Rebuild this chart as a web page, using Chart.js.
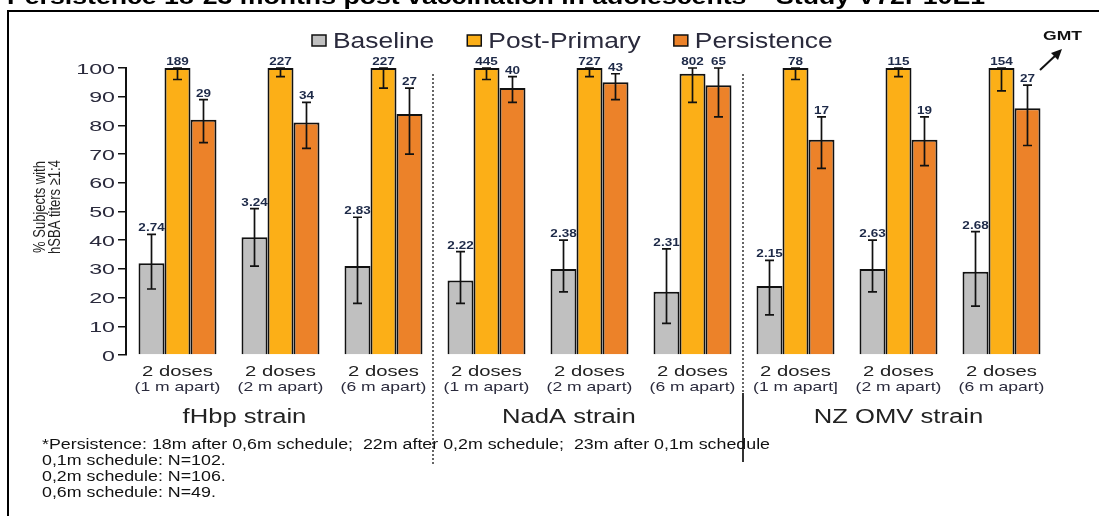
<!DOCTYPE html>
<html>
<head>
<meta charset="utf-8">
<script src="https://cdn.jsdelivr.net/npm/chart.js@4.4.0/dist/chart.umd.min.js"></script>
<style>
  html, body { margin: 0; padding: 0; background: #fff; }
  #wrap { position: relative; width: 1099px; height: 516px; }
</style>
</head>
<body>
<div id="wrap"><canvas id="chart" width="1099" height="516"></canvas></div>
<script>
// categories
const doseLabels = ['2 doses', '2 doses', '2 doses', '2 doses', '2 doses', '2 doses', '2 doses', '2 doses', '2 doses'];
const apartLabels = ['(1 m apart)', '(2 m apart)', '(6 m apart)', '(1 m apart)', '(2 m apart)', '(6 m apart)', '(1 m apart]', '(2 m apart)', '(6 m apart)'];
const strainLabels = ['fHbp strain', 'NadA strain', 'NZ OMV strain'];
const seriesNames = ['Baseline', 'Post-Primary', 'Persistence'];

// % subjects with hSBA titers >= 1:4
const baseline = [32, 41, 31, 26, 30, 22, 24, 30, 29];
const baselineLow = [23, 31, 18, 18, 22, 11, 14, 22, 17];
const baselineHigh = [42, 51, 48, 36, 40, 37, 33, 40, 43];

const postPrimary = [100, 100, 100, 100, 100, 98, 100, 100, 100];
const postLow = [96, 97, 93, 96, 97, 88, 96, 97, 92];
const postHigh = [100, 100, 100, 100, 100, 100, 100, 100, 100];

const persistence = [82, 81, 84, 93, 95, 94, 75, 75, 86];
const persLow = [74, 72, 70, 88, 89, 83, 65, 66, 73];
const persHigh = [89, 88, 93, 97, 98, 100, 83, 83, 94];

// GMT values printed above the bars
const baselineGMT = ['2.74', '3.24', '2.83', '2.22', '2.38', '2.31', '2.15', '2.63', '2.68'];
const postGMT = ['189', '227', '227', '445', '727', '802', '78', '115', '154'];
const persGMT = ['29', '34', '27', '40', '43', '65', '17', '19', '27'];

const yTicks = [0, 10, 20, 30, 40, 50, 60, 70, 80, 90, 100];

const titleText = 'Persistence 18-23 months post vaccination in adolescents \u2013 Study V72P10E1';
const footnotes = [
    '*Persistence: 18m after 0,6m schedule;  22m after 0,2m schedule;  23m after 0,1m schedule',
    '0,1m schedule: N=102.',
    '0,2m schedule: N=106.',
    '0,6m schedule: N=49.'
];

const errLow = [baselineLow, postLow, persLow];
const errHigh = [baselineHigh, postHigh, persHigh];
const gmtLabels = [baselineGMT, postGMT, persGMT];
const colors = ['#c0c0c0', '#fcaf17', '#ec8229'];
const narrow = '"Liberation Sans Narrow", "Arial Narrow", Arial';

// 横向拉伸的文字（原图被水平拉伸过）
function stretchText(ctx, text, x, y, font, sx, align, color) {
    ctx.save();
    ctx.font = font;
    ctx.fillStyle = color || '#222';
    ctx.textBaseline = 'alphabetic';
    ctx.textAlign = 'left';
    const w = ctx.measureText(text).width * sx;
    let left = x;
    if (align === 'center') left = x - w / 2;
    else if (align === 'right') left = x - w;
    ctx.translate(left, y);
    ctx.scale(sx, 1);
    ctx.fillText(text, 0, 0);
    ctx.restore();
    return w;
}

function textWidth(ctx, text, font) {
    ctx.save();
    ctx.font = font;
    const w = ctx.measureText(text).width;
    ctx.restore();
    return w;
}

const decorPlugin = {
    id: 'decor',
    beforeDraw(chart) {
        const ctx = chart.ctx;
        ctx.save();
        ctx.fillStyle = '#fff';
        ctx.fillRect(0, 0, chart.width, chart.height);
        // frame
        ctx.strokeStyle = '#000';
        ctx.lineWidth = 2;
        ctx.beginPath();
        ctx.moveTo(8, 520);
        ctx.lineTo(8, 11);
        ctx.lineTo(1100, 11);
        ctx.stroke();
        ctx.restore();

        // title, mostly cut off at the top
        const tw = textWidth(ctx, titleText, 'bold 22px Arial');
        stretchText(ctx, titleText, 7, 4, 'bold 22px Arial', 978 / tw, 'left', '#000');
    },
    afterDatasetsDraw(chart) {
        const ctx = chart.ctx;
        const y = chart.scales.y;
        chart.data.datasets.forEach((ds, i) => {
            const meta = chart.getDatasetMeta(i);
            meta.data.forEach((bar, j) => {
                const yLo = y.getPixelForValue(errLow[i][j]);
                const yHi = y.getPixelForValue(errHigh[i][j]);
                ctx.save();
                ctx.strokeStyle = '#111';
                ctx.lineWidth = 1.7;
                ctx.beginPath();
                ctx.moveTo(bar.x, yLo);
                ctx.lineTo(bar.x, yHi);
                ctx.moveTo(bar.x - 4.5, yLo);
                ctx.lineTo(bar.x + 4.5, yLo);
                ctx.moveTo(bar.x - 4.5, yHi);
                ctx.lineTo(bar.x + 4.5, yHi);
                ctx.stroke();
                ctx.restore();
                const top = Math.min(yHi, bar.y);
                stretchText(ctx, gmtLabels[i][j], bar.x, top - 3, 'bold 10px Arial', 1.35, 'center', '#1e2a48');
            });
        });
    },
    afterDraw(chart) {
        const ctx = chart.ctx;
        const x = chart.scales.x;
        const y = chart.scales.y;

        // y tick labels
        y.ticks.forEach(t => {
            stretchText(ctx, String(t.value), 115, y.getPixelForValue(t.value) + 5.5, '15px Arial', 1.55, 'right', '#2a2a3c');
        });

        // y axis title (rotated)
        ['% Subjects with', 'hSBA titers \u22651:4'].forEach((line, k) => {
            ctx.save();
            ctx.translate(45 + k * 15, 207);
            ctx.rotate(-Math.PI / 2);
            ctx.scale(1, 1.3);
            ctx.font = '13px ' + narrow;
            ctx.fillStyle = '#222';
            ctx.textAlign = 'center';
            ctx.fillText(line, 0, 0);
            ctx.restore();
        });

        // category labels
        doseLabels.forEach((d, j) => {
            const cx = x.getPixelForValue(j);
            stretchText(ctx, d, cx, 376, '15px Arial', 1.35, 'center', '#222');
            stretchText(ctx, apartLabels[j], cx, 391, '13px Arial', 1.35, 'center', '#2a2a3c');
        });
        const strainPos = [0.65, 3.8, 7.0];
        strainLabels.forEach((s, k) => {
            stretchText(ctx, s, x.getPixelForValue(strainPos[k]), 423, '20px Arial', 1.28, 'center', '#222');
        });

        // group dividers
        ctx.save();
        ctx.strokeStyle = '#333';
        ctx.lineWidth = 1.5;
        ctx.setLineDash([2, 2]);
        ctx.beginPath();
        ctx.moveTo(433, 74);
        ctx.lineTo(433, 465);
        ctx.moveTo(743, 74);
        ctx.lineTo(743, 393);
        ctx.stroke();
        ctx.setLineDash([]);
        ctx.lineWidth = 2;
        ctx.beginPath();
        ctx.moveTo(743, 393);
        ctx.lineTo(743, 462);
        ctx.stroke();
        ctx.restore();

        // legend
        let lx = 312;
        seriesNames.forEach((name, i) => {
            ctx.save();
            ctx.fillStyle = colors[i];
            ctx.fillRect(lx, 35, 14, 11);
            ctx.strokeStyle = '#111';
            ctx.lineWidth = 1.5;
            ctx.strokeRect(lx, 35, 14, 11);
            ctx.restore();
            const w = stretchText(ctx, name, lx + 21, 48, '22px Arial', 1.2, 'left', '#2a2a3c');
            lx += 21 + w + 33;
        });

        // GMT arrow
        stretchText(ctx, 'GMT', 1043, 40, 'bold 13px Arial', 1.35, 'left', '#111');
        ctx.save();
        ctx.strokeStyle = '#111';
        ctx.fillStyle = '#111';
        ctx.lineWidth = 2;
        ctx.beginPath();
        ctx.moveTo(1040, 70);
        ctx.lineTo(1056, 55);
        ctx.stroke();
        ctx.beginPath();
        ctx.moveTo(1062, 49);
        ctx.lineTo(1051, 53);
        ctx.lineTo(1058, 60);
        ctx.closePath();
        ctx.fill();
        ctx.restore();

        // footnotes
        const fFont = '14px ' + narrow;
        const fw = textWidth(ctx, footnotes[0], fFont);
        footnotes.forEach((f, k) => {
            stretchText(ctx, f, 42, 449 + k * 16, fFont, 728 / fw, 'left', '#111');
        });
    }
};

new Chart(document.getElementById('chart').getContext('2d'), {
    type: 'bar',
    data: {
        labels: apartLabels,
        datasets: [
            { label: seriesNames[0], data: baseline, backgroundColor: colors[0], borderColor: '#111', borderWidth: 2 },
            { label: seriesNames[1], data: postPrimary, backgroundColor: colors[1], borderColor: '#111', borderWidth: 2 },
            { label: seriesNames[2], data: persistence, backgroundColor: colors[2], borderColor: '#111', borderWidth: 2 }
        ]
    },
    options: {
        responsive: false,
        animation: false,
        layout: { padding: { left: 0, top: 68, right: 46, bottom: 161 } },
        datasets: { bar: { categoryPercentage: 0.757, barPercentage: 1 } },
        plugins: {
            legend: { display: false },
            tooltip: { enabled: false }
        },
        scales: {
            x: { display: false },
            y: {
                min: 0,
                max: 100,
                afterBuildTicks(scale) {
                    scale.ticks = yTicks.map(v => ({ value: v }));
                },
                afterFit(scale) {
                    scale.width = 126;
                },
                ticks: { display: false },
                grid: { drawOnChartArea: false, drawTicks: true, tickLength: 8, color: '#111', lineWidth: 1.5 },
                border: { display: true, color: '#111', width: 2 }
            }
        }
    },
    plugins: [decorPlugin]
});
</script>
</body>
</html>
